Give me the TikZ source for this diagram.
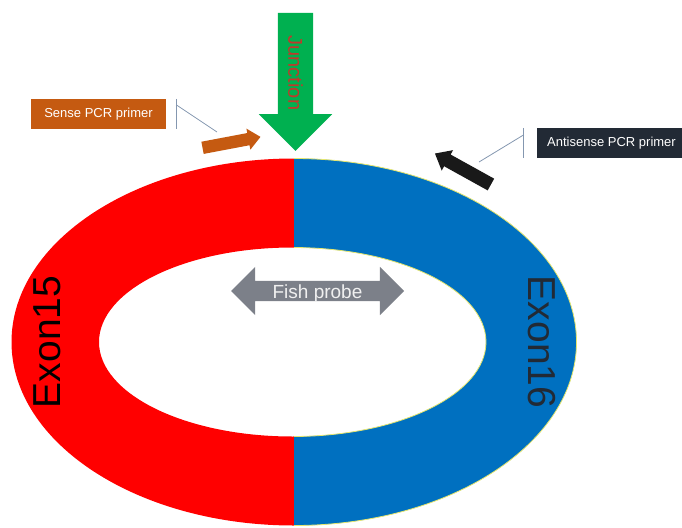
\documentclass[tikz,border=0pt]{standalone}
\usepackage{fontspec}
\setmainfont{Liberation Sans}
\usetikzlibrary{shapes.arrows, positioning, calc}

\definecolor{exonred}{HTML}{FF0000}
\definecolor{exonblue}{HTML}{0070C0}
\definecolor{rimyellow}{HTML}{E6E66E}
\definecolor{junctgreen}{HTML}{00B050}
\definecolor{junctred}{HTML}{C0392B}
\definecolor{senseorange}{HTML}{C55A11}
\definecolor{antinavy}{HTML}{222A35}
\definecolor{probegray}{HTML}{7C8089}
\definecolor{calloutgray}{HTML}{8497B0}

\begin{document}
\begin{tikzpicture}[
  x=1pt, y=-1pt,
  blockarrow/.style = {
    single arrow,
    inner sep=0pt,
    single arrow head indent=0pt
  },
  primerbox/.style = {
    minimum height=30pt,
    inner sep=0pt,
    text=white,
    font=\fontsize{13}{15}\selectfont
  },
  exonlabel/.style = {
    inner sep=0pt,
    font=\fontsize{39}{40}\selectfont
  },
  callout/.style = {calloutgray, line width=0.8pt}
]
\useasboundingbox (0,0) rectangle (682,527);

% ======================================================
% RING
% ======================================================

\coordinate (ring) at (294,342);

\begin{scope}
  \clip (0,0) rectangle (ring |- 0,527);
  \fill[exonred, even odd rule]
    (ring) ellipse [x radius=282.5, y radius=183.5]
    ($(ring)+(-1.5,0)$) ellipse [x radius=193.5, y radius=94.5];
\end{scope}
\begin{scope}
  \clip (ring |- 0,0) rectangle (682,527);
  \fill[exonblue, even odd rule]
    (ring) ellipse [x radius=282.5, y radius=183.5]
    ($(ring)+(-1.5,0)$) ellipse [x radius=193.5, y radius=94.5];
  \draw[rimyellow, line width=0.8pt]
    (ring) ellipse [x radius=282.5, y radius=183.5]
    ($(ring)+(-1.5,0)$) ellipse [x radius=193.5, y radius=94.5];
\end{scope}

\node[exonlabel, rotate=90] (exon15) at (47,342) {Exon15};
\node[exonlabel, rotate=-90, text=antinavy] (exon16) at (542,342) {Exon16};

% ---- Probe ----
\node[double arrow, fill=probegray, inner sep=0pt,
      minimum height=173pt, double arrow head extend=14pt,
      double arrow head indent=0pt,
      text=white!88!gray, font=\fontsize{19}{20}\selectfont,
      text height=17pt, text depth=3pt] (probe) at (317.5,291) {Fish probe};

% ======================================================
% JUNCTION AND PRIMERS
% ======================================================

\node[blockarrow, fill=junctgreen, rotate=-90,
      minimum height=138pt, single arrow head extend=19pt,
      text=junctred, font=\fontsize{20}{22}\selectfont,
      text height=24.7pt, text depth=10.3pt] (junction) at (295.5,73) {Junction};

\node[blockarrow, fill=senseorange, rotate=10.7,
      minimum height=59pt, single arrow head extend=4.5pt,
      single arrow tip angle=82,
      text height=6pt, text depth=6pt] (sensearrow) at (228,143) {};

\node[blockarrow, fill=black!90, rotate=151,
      minimum height=64pt, single arrow head extend=5pt,
      single arrow tip angle=79,
      text height=6.5pt, text depth=6.5pt] (antiarrow) at (466.5,171) {};

\node[primerbox, fill=senseorange, minimum width=135pt] (sensebox) at (98.5,114) {Sense PCR primer};
\node[primerbox, fill=antinavy, minimum width=149pt] (antibox) at (611.5,143) {Antisense PCR primer};

% ---- Callouts ----
\coordinate (sense_bar) at ([xshift=10pt]sensebox.north east);
\coordinate (sense_end) at (217,132);
\draw[callout] (sense_bar) -- ([xshift=10pt]sensebox.south east);
\draw[callout] ($(sense_bar)+(0,6)$) -- (sense_end);

\coordinate (anti_bar) at ([xshift=-13pt]antibox.north west);
\coordinate (anti_end) at (479,162);
\draw[callout] (anti_bar) -- ([xshift=-13pt]antibox.south west);
\draw[callout] ($(anti_bar)+(0,7)$) -- (anti_end);

\end{tikzpicture}
\end{document}
